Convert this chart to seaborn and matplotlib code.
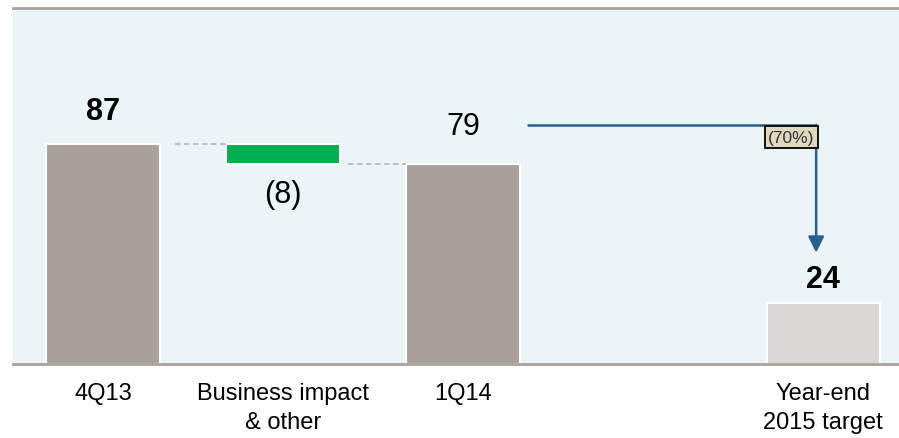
import matplotlib
matplotlib.use("Agg")
import matplotlib.pyplot as plt
import seaborn as sns
import pandas as pd

# chart data
categories = ["4Q13", "Business impact\n& other", "1Q14", " ", "Year-end\n2015 target"]
totals = [87, 0, 79, 0, 24]
bridge_start = 87
bridge_change = -8
bar_labels = ["87", "(8)", "79", "", "24"]
bold_labels = [True, False, False, False, True]
reduction_label = "(70%)"

bar_colors = ["#A9A19A", "#A9A19A", "#A9A19A", "#A9A19A", "#DAD6D3"]
green = "#00B050"
arrow_blue = "#2B5F8E"
bg = "#EBF4F6"

sns.set_theme(style="white")
plt.rcParams["font.family"] = ["Liberation Sans", "DejaVu Sans"]

fig = plt.figure(figsize=(8.99, 4.39), dpi=100)
ax = fig.add_axes([13 / 899, 74 / 439, 886 / 899, 356 / 439])
ax.set_facecolor(bg)

df = pd.DataFrame({"cat": categories, "val": totals})
sns.barplot(data=df, x="cat", y="val", hue="cat", palette=bar_colors, saturation=1,
            legend=False, width=0.63, edgecolor="white", linewidth=1.5, ax=ax)

# floating bridge bar
ax.bar(1, -bridge_change, bottom=bridge_start + bridge_change, width=0.63,
       color=green, edgecolor="white", linewidth=1.5)

# dashed connectors
ax.plot([0.4, 1 - 0.315], [bridge_start, bridge_start], ls=(0, (3, 2)), color="#BBBBBB", lw=1.3)
end = bridge_start + bridge_change
ax.plot([1.36, 2 - 0.315], [end, end], ls=(0, (3, 2)), color="#BBBBBB", lw=1.3)

ax.set_xlim(-0.5, 4.42)
ax.set_ylim(0, 140.7)

# value labels
offsets = {0: 33, 2: 38, 4: 24}
for i, (v, lab, b) in enumerate(zip(totals, bar_labels, bold_labels)):
    if i in offsets:
        ax.annotate(lab, (i, v), xytext=(0, offsets[i]), textcoords="offset pixels",
                    ha="center", va="center", fontsize=22,
                    fontweight="bold" if b else "normal", color="black")
ax.annotate(bar_labels[1], (1, end), xytext=(0, -30), textcoords="offset pixels",
            ha="center", va="center", fontsize=22, color="black")

# reduction arrow
arrow_y = 94.5
x_start, x_turn = 2.36, 3.96
ax.plot([x_start, x_turn], [arrow_y, arrow_y], color=arrow_blue, lw=1.8)
ax.annotate("", xy=(x_turn, 44), xytext=(x_turn, arrow_y),
            arrowprops=dict(arrowstyle="-|>,head_length=0.8,head_width=0.4",
                            color=arrow_blue, lw=1.8, shrinkA=0, shrinkB=0))
ax.text(3.952, 89.7, reduction_label, ha="right", va="center", fontsize=12.5,
        color="#333333",
        bbox=dict(boxstyle="square,pad=0.2", fc="#DFD9C0", ec="black", lw=1.3))

# axes styling
ax.set_xlabel("")
ax.set_ylabel("")
ax.set_yticks([])
ax.tick_params(axis="x", length=0, pad=13, labelsize=17, labelcolor="black")
for lbl in ax.get_xticklabels():
    lbl.set_linespacing(1.4)
for s in ["left", "right"]:
    ax.spines[s].set_visible(False)
ax.spines["bottom"].set_color("#A9A19A")
ax.spines["bottom"].set_linewidth(2)
ax.spines["top"].set_color("#A9A19A")
ax.spines["top"].set_linewidth(2)

fig.savefig("out.png", dpi=100)
